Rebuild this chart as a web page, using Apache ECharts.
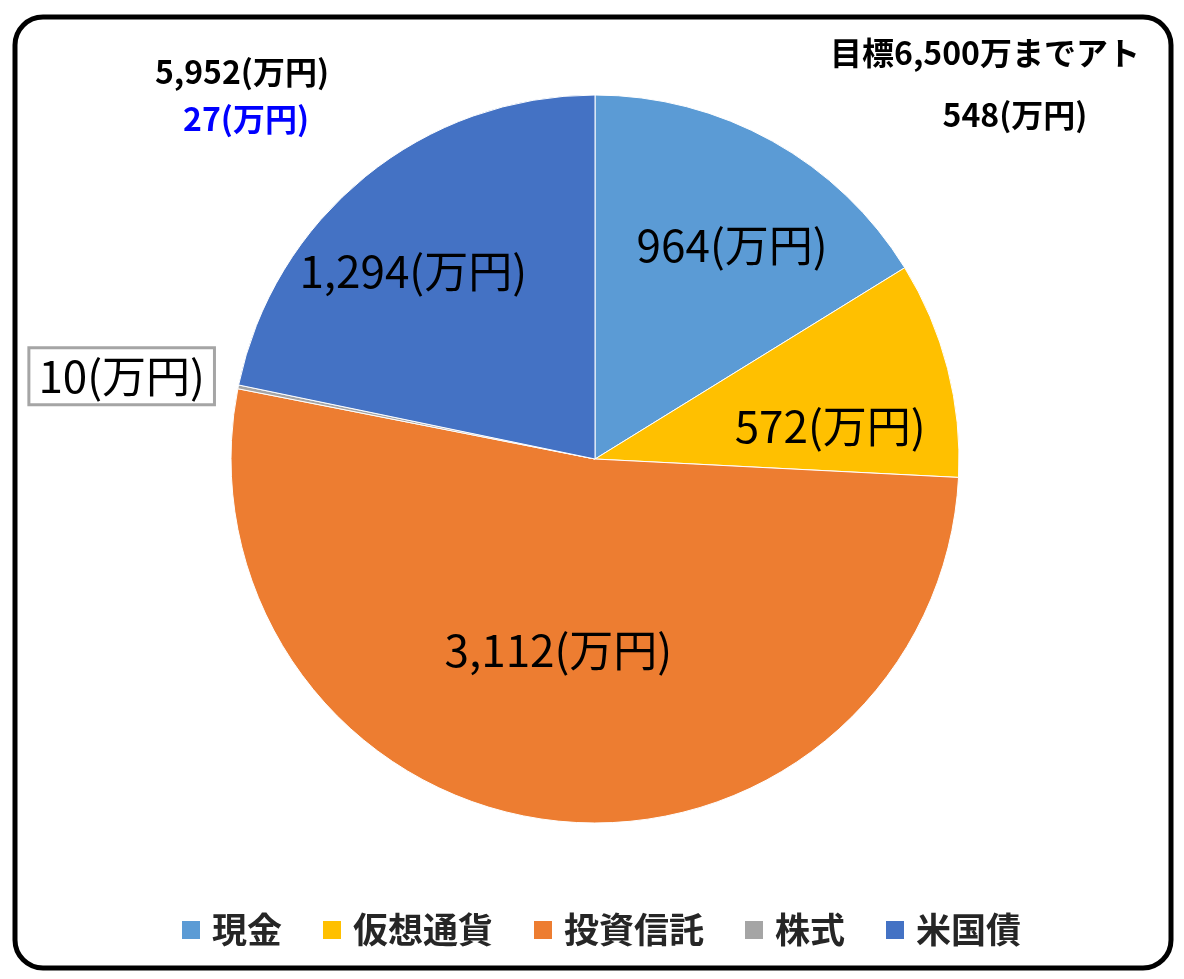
<!DOCTYPE html>
<html>
<head>
<meta charset="utf-8">
<script src="https://cdn.jsdelivr.net/npm/echarts@6/dist/echarts.min.js"></script>
<style>
html,body{margin:0;padding:0;background:#fff;}
#chart{width:1184px;height:979px;}
</style>
</head>
<body>
<div id="chart"></div>
<script>
// ---- data ----
const categories = ['現金', '仮想通貨', '投資信託', '株式', '米国債'];
const values = [964, 572, 3112, 10, 1294];
const totalText = '5,952(万円)';
const diffText = '27(万円)';
const goalText = '目標6,500万までアト';
const remainText = '548(万円)';

// ---- styles ----
const colors = ['#5B9BD5', '#FFC000', '#ED7D31', '#A5A5A5', '#4472C4'];
const labelNudge = [[47, -52], [56, 13], [-14, 8], [-292, -46], [-65, -44]];
const FONT = '"Noto Sans CJK JP", "Noto Sans", sans-serif';

function fmt(v) { return v.toLocaleString('en-US') + '(万円)'; }

const pieData = categories.map(function (name, i) {
  const item = { name: name, value: values[i], itemStyle: { color: colors[i] } };
  if (name === '株式') {
    item.label = {
      backgroundColor: '#fff',
      borderColor: '#A5A5A5',
      borderWidth: 3,
      padding: [6, 8, 4, 8]
    };
  }
  return item;
});

const chart = echarts.init(document.getElementById('chart'), null, { renderer: 'canvas' });
chart.setOption({
  backgroundColor: '#fff',
  animation: false,
  color: colors,
  legend: {
    left: 175,
    top: 905,
    icon: 'rect',
    itemWidth: 20,
    itemHeight: 20,
    itemGap: 39,
    data: categories,
    textStyle: {
      fontFamily: FONT,
      fontSize: 35,
      fontWeight: 'bold',
      color: '#262626',
      lineHeight: 40,
      padding: [0, 0, 0, 6]
    }
  },
  graphic: [
    {
      type: 'rect',
      shape: { x: 15, y: 17, width: 1156, height: 951, r: 28 },
      style: { fill: 'none', stroke: '#000', lineWidth: 5 },
      z: 100
    },
    {
      type: 'text', x: 242, y: 72,
      style: { text: totalText, fill: '#000', font: 'bold 32px ' + FONT, textAlign: 'center', textVerticalAlign: 'middle' }
    },
    {
      type: 'text', x: 246, y: 119,
      style: { text: diffText, fill: '#0000FF', font: 'bold 32px ' + FONT, textAlign: 'center', textVerticalAlign: 'middle' }
    },
    {
      type: 'text', x: 830, y: 53,
      style: { text: goalText, fill: '#000', font: 'bold 32px ' + FONT, textAlign: 'left', textVerticalAlign: 'middle' }
    },
    {
      type: 'text', x: 1015, y: 115,
      style: { text: remainText, fill: '#000', font: 'bold 32px ' + FONT, textAlign: 'center', textVerticalAlign: 'middle' }
    }
  ],
  series: [{
    type: 'pie',
    center: [595, 459],
    radius: 364,
    startAngle: 90,
    clockwise: true,
    data: pieData,
    itemStyle: { borderColor: '#fff', borderWidth: 1 },
    label: {
      show: true,
      position: 'inside',
      formatter: function (p) { return fmt(p.value); },
      fontFamily: FONT,
      fontSize: 44,
      color: '#000'
    },
    labelLine: { show: false },
    labelLayout: function (params) {
      const n = labelNudge[params.dataIndex];
      return { dx: n[0], dy: n[1] };
    },
    emphasis: { disabled: true }
  }]
});
</script>
</body>
</html>
